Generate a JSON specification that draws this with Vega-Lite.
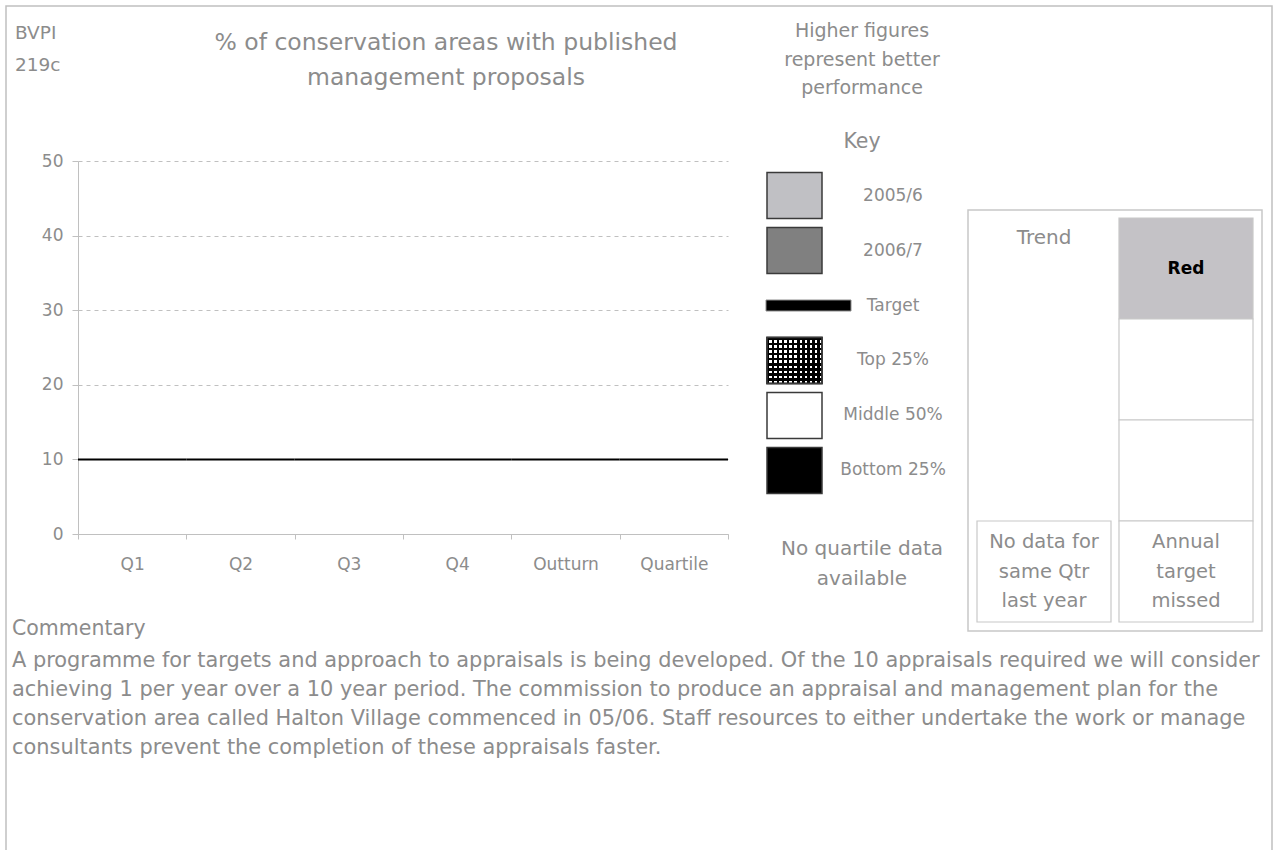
{
  "$schema": "https://vega.github.io/schema/vega-lite/v6.json",
  "width": 1266,
  "height": 844,
  "autosize": {"type": "none"},
  "padding": {"left": 6, "top": 6, "right": 5, "bottom": 0},
  "background": "#ffffff",
  "config": {"view": {"stroke": null}, "font": "DejaVu Sans"},
  "resolve": {"scale": {"x": "independent", "y": "independent", "fill": "independent"}},
  "layer": [
    {
      "data": {"values": [{"part": "page"}]},
      "mark": {"type": "rect", "fill": "transparent", "stroke": "#c0c0c0", "strokeWidth": 1.5},
      "encoding": {"x": {"value": 0}, "x2": {"value": 1266}, "y": {"value": 0}, "y2": {"value": 900}}
    },
    {
      "data": {"values": [
        {"period": "Q1", "value_2005_6": null, "value_2006_7": null, "target": 10},
        {"period": "Q2", "value_2005_6": null, "value_2006_7": null, "target": 10},
        {"period": "Q3", "value_2005_6": null, "value_2006_7": null, "target": 10},
        {"period": "Q4", "value_2005_6": null, "value_2006_7": null, "target": 10},
        {"period": "Outturn", "value_2005_6": null, "value_2006_7": null, "target": 10},
        {"period": "Quartile", "value_2005_6": null, "value_2006_7": null, "target": 10}
      ]},
      "layer": [
        {
          "mark": {"type": "bar", "fill": "#c0c0c4", "stroke": "#3a3a3a"},
          "encoding": {
            "x": {"field": "period", "type": "nominal",
              "scale": {"type": "band", "domain": ["Q1", "Q2", "Q3", "Q4", "Outturn", "Quartile"], "range": [72, 722], "paddingInner": 0, "paddingOuter": 0},
              "axis": {"title": null, "orient": "bottom", "offset": -316, "tickBand": "extent", "tickSize": 5, "labelAngle": 0, "labelPadding": 17, "labelFontSize": 17, "labelColor": "#8c8c8c", "labelFont": "DejaVu Sans", "domainColor": "#c0c0c0", "tickColor": "#c0c0c0", "grid": false}},
            "y": {"field": "value_2005_6", "type": "quantitative",
              "scale": {"domain": [0, 50], "range": [528, 155], "nice": false},
              "axis": {"title": null, "orient": "left", "offset": -72, "values": [0, 10, 20, 30, 40, 50], "tickSize": 6, "labelPadding": 9, "labelFontSize": 17, "labelColor": "#8c8c8c", "labelFont": "DejaVu Sans", "domainColor": "#c0c0c0", "tickColor": "#c0c0c0", "grid": true, "gridColor": "#c0c0c0", "gridDash": [4, 4]}}
          }
        },
        {
          "mark": {"type": "bar", "fill": "#808080", "stroke": "#3a3a3a"},
          "encoding": {
            "x": {"field": "period", "type": "nominal",
              "axis": {"title": null, "orient": "bottom", "offset": -316, "tickBand": "extent", "tickSize": 5, "labelAngle": 0, "labelPadding": 17, "labelFontSize": 17, "labelColor": "#8c8c8c", "labelFont": "DejaVu Sans", "domainColor": "#c0c0c0", "tickColor": "#c0c0c0", "grid": false}},
            "y": {"field": "value_2006_7", "type": "quantitative",
              "axis": {"title": null, "orient": "left", "offset": -72, "values": [0, 10, 20, 30, 40, 50], "tickSize": 6, "labelPadding": 9, "labelFontSize": 17, "labelColor": "#8c8c8c", "labelFont": "DejaVu Sans", "domainColor": "#c0c0c0", "tickColor": "#c0c0c0", "grid": true, "gridColor": "#c0c0c0", "gridDash": [4, 4]}}
          }
        },
        {
          "mark": {"type": "rule", "color": "#000000", "strokeWidth": 2},
          "encoding": {
            "x": {"field": "period", "type": "nominal", "bandPosition": 0,
              "axis": {"title": null, "orient": "bottom", "offset": -316, "tickBand": "extent", "tickSize": 5, "labelAngle": 0, "labelPadding": 17, "labelFontSize": 17, "labelColor": "#8c8c8c", "labelFont": "DejaVu Sans", "domainColor": "#c0c0c0", "tickColor": "#c0c0c0", "grid": false}},
            "x2": {"field": "period", "bandPosition": 1},
            "y": {"field": "target", "type": "quantitative",
              "axis": {"title": null, "orient": "left", "offset": -72, "values": [0, 10, 20, 30, 40, 50], "tickSize": 6, "labelPadding": 9, "labelFontSize": 17, "labelColor": "#8c8c8c", "labelFont": "DejaVu Sans", "domainColor": "#c0c0c0", "tickColor": "#c0c0c0", "grid": true, "gridColor": "#c0c0c0", "gridDash": [4, 4]}}
          }
        }
      ]
    },
    {
      "data": {"values": [
        {"item": "2005/6"}, {"item": "2006/7"}, {"item": "Target"},
        {"item": "Top 25%"}, {"item": "Middle 50%"}, {"item": "Bottom 25%"}
      ]},
      "layer": [
        {
          "transform": [{"filter": "datum.item !== 'Target'"}],
          "mark": {"type": "rect", "stroke": "#3a3a3a", "strokeWidth": 1.5},
          "encoding": {
            "y": {"field": "item", "type": "nominal", "axis": null,
              "scale": {"type": "band", "domain": ["2005/6", "2006/7", "Target", "Top 25%", "Middle 50%", "Bottom 25%"], "range": [166.5, 487.5], "paddingInner": 0.1636, "paddingOuter": 0}},
            "x": {"value": 761}, "x2": {"value": 816},
            "fill": {"field": "item", "type": "nominal", "legend": null,
              "scale": {"domain": ["2005/6", "2006/7", "Top 25%", "Middle 50%", "Bottom 25%"], "range": ["#c0c0c4", "#808080", "#ffffff", "#ffffff", "#000000"]}}
          }
        },
        {
          "transform": [{"filter": "datum.item === 'Top 25%'"}],
          "mark": {"type": "rect", "stroke": "#3a3a3a", "strokeWidth": 1.5,
            "fill": {"gradient": "linear", "x1": 0, "y1": 0, "x2": 1, "y2": 0, "stops": [
              {"offset": 0, "color": "#000000"}, {"offset": 0.04545, "color": "#000000"}, {"offset": 0.04545, "color": "rgba(0,0,0,0)"}, {"offset": 0.09091, "color": "rgba(0,0,0,0)"},
              {"offset": 0.09091, "color": "#000000"}, {"offset": 0.13636, "color": "#000000"}, {"offset": 0.13636, "color": "rgba(0,0,0,0)"}, {"offset": 0.18182, "color": "rgba(0,0,0,0)"},
              {"offset": 0.18182, "color": "#000000"}, {"offset": 0.22727, "color": "#000000"}, {"offset": 0.22727, "color": "rgba(0,0,0,0)"}, {"offset": 0.27273, "color": "rgba(0,0,0,0)"},
              {"offset": 0.27273, "color": "#000000"}, {"offset": 0.31818, "color": "#000000"}, {"offset": 0.31818, "color": "rgba(0,0,0,0)"}, {"offset": 0.36364, "color": "rgba(0,0,0,0)"},
              {"offset": 0.36364, "color": "#000000"}, {"offset": 0.40909, "color": "#000000"}, {"offset": 0.40909, "color": "rgba(0,0,0,0)"}, {"offset": 0.45455, "color": "rgba(0,0,0,0)"},
              {"offset": 0.45455, "color": "#000000"}, {"offset": 0.5, "color": "#000000"}, {"offset": 0.5, "color": "rgba(0,0,0,0)"}, {"offset": 0.54545, "color": "rgba(0,0,0,0)"},
              {"offset": 0.54545, "color": "#000000"}, {"offset": 0.59091, "color": "#000000"}, {"offset": 0.59091, "color": "rgba(0,0,0,0)"}, {"offset": 0.63636, "color": "rgba(0,0,0,0)"},
              {"offset": 0.63636, "color": "#000000"}, {"offset": 0.68182, "color": "#000000"}, {"offset": 0.68182, "color": "rgba(0,0,0,0)"}, {"offset": 0.72727, "color": "rgba(0,0,0,0)"},
              {"offset": 0.72727, "color": "#000000"}, {"offset": 0.77273, "color": "#000000"}, {"offset": 0.77273, "color": "rgba(0,0,0,0)"}, {"offset": 0.81818, "color": "rgba(0,0,0,0)"},
              {"offset": 0.81818, "color": "#000000"}, {"offset": 0.86364, "color": "#000000"}, {"offset": 0.86364, "color": "rgba(0,0,0,0)"}, {"offset": 0.90909, "color": "rgba(0,0,0,0)"},
              {"offset": 0.90909, "color": "#000000"}, {"offset": 0.95455, "color": "#000000"}, {"offset": 0.95455, "color": "rgba(0,0,0,0)"}, {"offset": 1, "color": "rgba(0,0,0,0)"}
            ]}},
          "encoding": {
            "y": {"field": "item", "type": "nominal", "axis": null},
            "x": {"value": 761}, "x2": {"value": 816}
          }
        },
        {
          "transform": [{"filter": "datum.item === 'Top 25%'"}],
          "mark": {"type": "rect", "stroke": "#3a3a3a", "strokeWidth": 1.5,
            "fill": {"gradient": "linear", "x1": 0, "y1": 0, "x2": 0, "y2": 1, "stops": [
              {"offset": 0, "color": "#000000"}, {"offset": 0.05556, "color": "#000000"}, {"offset": 0.05556, "color": "rgba(0,0,0,0)"}, {"offset": 0.11111, "color": "rgba(0,0,0,0)"},
              {"offset": 0.11111, "color": "#000000"}, {"offset": 0.16667, "color": "#000000"}, {"offset": 0.16667, "color": "rgba(0,0,0,0)"}, {"offset": 0.22222, "color": "rgba(0,0,0,0)"},
              {"offset": 0.22222, "color": "#000000"}, {"offset": 0.27778, "color": "#000000"}, {"offset": 0.27778, "color": "rgba(0,0,0,0)"}, {"offset": 0.33333, "color": "rgba(0,0,0,0)"},
              {"offset": 0.33333, "color": "#000000"}, {"offset": 0.38889, "color": "#000000"}, {"offset": 0.38889, "color": "rgba(0,0,0,0)"}, {"offset": 0.44444, "color": "rgba(0,0,0,0)"},
              {"offset": 0.44444, "color": "#000000"}, {"offset": 0.5, "color": "#000000"}, {"offset": 0.5, "color": "rgba(0,0,0,0)"}, {"offset": 0.55556, "color": "rgba(0,0,0,0)"},
              {"offset": 0.55556, "color": "#000000"}, {"offset": 0.61111, "color": "#000000"}, {"offset": 0.61111, "color": "rgba(0,0,0,0)"}, {"offset": 0.66667, "color": "rgba(0,0,0,0)"},
              {"offset": 0.66667, "color": "#000000"}, {"offset": 0.72222, "color": "#000000"}, {"offset": 0.72222, "color": "rgba(0,0,0,0)"}, {"offset": 0.77778, "color": "rgba(0,0,0,0)"},
              {"offset": 0.77778, "color": "#000000"}, {"offset": 0.83333, "color": "#000000"}, {"offset": 0.83333, "color": "rgba(0,0,0,0)"}, {"offset": 0.88889, "color": "rgba(0,0,0,0)"},
              {"offset": 0.88889, "color": "#000000"}, {"offset": 0.94444, "color": "#000000"}, {"offset": 0.94444, "color": "rgba(0,0,0,0)"}, {"offset": 1, "color": "rgba(0,0,0,0)"}
            ]}},
          "encoding": {
            "y": {"field": "item", "type": "nominal", "axis": null},
            "x": {"value": 761}, "x2": {"value": 816}
          }
        },
        {
          "transform": [{"filter": "datum.item === 'Target'"}],
          "mark": {"type": "tick", "orient": "horizontal", "color": "#000000", "opacity": 1, "thickness": 11, "size": 85, "stroke": "#8c8c8c", "strokeWidth": 1},
          "encoding": {
            "y": {"field": "item", "type": "nominal", "axis": null},
            "x": {"value": 802.5}
          }
        },
        {
          "mark": {"type": "text", "fontSize": 17, "color": "#8c8c8c", "align": "center", "baseline": "middle"},
          "encoding": {
            "y": {"field": "item", "type": "nominal", "axis": null},
            "x": {"value": 887},
            "text": {"field": "item"}
          }
        }
      ]
    },
    {
      "data": {"values": [{"part": "trend box"}]},
      "mark": {"type": "rect", "fill": "transparent", "stroke": "#c8c8c8", "strokeWidth": 1.5},
      "encoding": {"x": {"value": 962}, "x2": {"value": 1256}, "y": {"value": 204}, "y2": {"value": 625}}
    },
    {
      "data": {"values": [
        {"col": "Trend", "row": "1", "label": "Trend"},
        {"col": "Trend", "row": "4", "label": ["No data for", "same Qtr", "last year"]},
        {"col": "Status", "row": "1", "label": "Red"},
        {"col": "Status", "row": "2", "label": ""},
        {"col": "Status", "row": "3", "label": ""},
        {"col": "Status", "row": "4", "label": ["Annual", "target", "missed"]}
      ]},
      "layer": [
        {
          "transform": [{"filter": "datum.label !== 'Trend'"}],
          "mark": {"type": "rect", "stroke": "#c8c8c8", "strokeWidth": 1.2},
          "encoding": {
            "x": {"field": "col", "type": "nominal", "axis": null,
              "scale": {"type": "band", "domain": ["Trend", "Status"], "range": [971, 1247], "paddingInner": 0.0563, "paddingOuter": 0}},
            "y": {"field": "row", "type": "nominal", "axis": null,
              "scale": {"type": "band", "domain": ["1", "2", "3", "4"], "range": [212, 616], "paddingInner": 0, "paddingOuter": 0}},
            "fill": {"condition": {"test": "datum.label === 'Red'", "value": "#c4c2c6"}, "value": "#ffffff"}
          }
        },
        {
          "transform": [{"filter": "datum.label === 'Trend'"}],
          "mark": {"type": "text", "fontSize": 20, "color": "#8c8c8c", "align": "center", "baseline": "middle"},
          "encoding": {
            "x": {"field": "col", "type": "nominal", "axis": null},
            "y": {"field": "row", "type": "nominal", "axis": null, "bandPosition": 0.2},
            "text": {"field": "label"}
          }
        },
        {
          "transform": [{"filter": "datum.label === 'Red'"}],
          "mark": {"type": "text", "fontSize": 17, "fontWeight": "bold", "color": "#000000", "align": "center", "baseline": "middle"},
          "encoding": {
            "x": {"field": "col", "type": "nominal", "axis": null},
            "y": {"field": "row", "type": "nominal", "axis": null},
            "text": {"field": "label"}
          }
        },
        {
          "transform": [{"filter": "datum.row === '4'"}],
          "mark": {"type": "text", "fontSize": 19.5, "lineHeight": 29.5, "color": "#8c8c8c", "align": "center", "baseline": "middle"},
          "encoding": {
            "x": {"field": "col", "type": "nominal", "axis": null},
            "y": {"field": "row", "type": "nominal", "axis": null, "bandPosition": 0.21},
            "text": {"field": "label"}
          }
        }
      ]
    },
    {
      "data": {"values": [{"text": ["BVPI", "219c"]}]},
      "mark": {"type": "text", "fontSize": 18.5, "lineHeight": 32, "color": "#8c8c8c", "align": "left", "baseline": "alphabetic"},
      "encoding": {"x": {"value": 9}, "y": {"value": 33}, "text": {"field": "text"}}
    },
    {
      "data": {"values": [{"text": ["% of conservation areas with published", "management proposals"]}]},
      "mark": {"type": "text", "fontSize": 23.5, "lineHeight": 35, "color": "#8c8c8c", "align": "center", "baseline": "alphabetic"},
      "encoding": {"x": {"value": 440}, "y": {"value": 44}, "text": {"field": "text"}}
    },
    {
      "data": {"values": [{"text": ["Higher figures", "represent better", "performance"]}]},
      "mark": {"type": "text", "fontSize": 19, "lineHeight": 28.5, "color": "#8c8c8c", "align": "center", "baseline": "alphabetic"},
      "encoding": {"x": {"value": 856}, "y": {"value": 31}, "text": {"field": "text"}}
    },
    {
      "data": {"values": [{"text": "Key"}]},
      "mark": {"type": "text", "fontSize": 20.5, "color": "#8c8c8c", "align": "center", "baseline": "alphabetic"},
      "encoding": {"x": {"value": 856}, "y": {"value": 142}, "text": {"field": "text"}}
    },
    {
      "data": {"values": [{"text": ["No quartile data", "available"]}]},
      "mark": {"type": "text", "fontSize": 20, "lineHeight": 30, "color": "#8c8c8c", "align": "center", "baseline": "alphabetic"},
      "encoding": {"x": {"value": 856}, "y": {"value": 549}, "text": {"field": "text"}}
    },
    {
      "data": {"values": [{"text": "Commentary"}]},
      "mark": {"type": "text", "fontSize": 20.5, "color": "#8c8c8c", "align": "left", "baseline": "alphabetic"},
      "encoding": {"x": {"value": 6}, "y": {"value": 629}, "text": {"field": "text"}}
    },
    {
      "data": {"values": [{"text": [
        "A programme for targets and approach to appraisals is being developed. Of the 10 appraisals required we will consider",
        "achieving 1 per year over a 10 year period. The commission to produce an appraisal and management plan for the",
        "conservation area called Halton Village commenced in 05/06.  Staff resources to either undertake the work or manage",
        "consultants prevent the completion of these appraisals faster."
      ]}]},
      "mark": {"type": "text", "fontSize": 20.9, "lineHeight": 29, "color": "#8c8c8c", "align": "left", "baseline": "alphabetic"},
      "encoding": {"x": {"value": 6}, "y": {"value": 661}, "text": {"field": "text"}}
    }
  ]
}
